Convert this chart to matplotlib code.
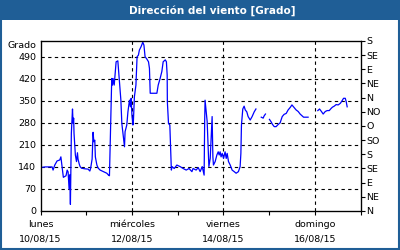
import numpy as np
import matplotlib
matplotlib.use('Agg')
import matplotlib.pyplot as plt
from matplotlib.patches import Rectangle

# Datos: horas desde lunes 10/08/15 00:00, dirección en grados (nan = hueco)
horas = [0.2, 2.4, 6.1, 6.6, 7.5, 8.7, 10.1, 10.7, 11.0, 11.5, 12.0, 12.8, 13.4, 14.0, 14.5,
         15.0, 15.4, 15.7, 16.2, 16.8, 17.1, 17.4, 17.6, 18.3, 18.9, 19.4, 19.7, 20.3, 20.8,
         21.5, 23.3, 25.0, 25.9, 26.3, 27.1, 27.6, 28.0, 28.5, 28.8, 29.6, 30.3, 31.3, 33.0,
         34.8, 35.7, 36.2, 36.6, 37.1, 37.4, 37.8, 38.1, 38.7, 39.7, 40.6, 41.3, 42.2, 42.7,
         44.1, 44.4, 45.3, 45.9, 46.7, 47.2, 47.6, 48.0, 48.5, 48.8, 49.3, 50.1, 50.7, 51.4,
         51.9, 52.8, 53.7, 54.3, 54.9, 55.8, 56.7, 57.2, 57.6, 61.1, 61.8, 62.8, 63.7, 64.4,
         65.5, 66.1, 66.5, 66.6, 67.2, 67.9, 68.7, 69.1, 70.2, 71.6, 73.3, 74.9, 76.5, 78.0,
         79.5, 80.1, 81.7, 82.8, 83.8, 84.9, 85.6, 85.9, 86.2, 86.4, 87.0, 87.5, 88.4, 89.1,
         89.8, 90.1, 90.5, 90.8, 91.7, 92.6, 93.3, 93.8, 94.3, 94.8, 95.4, 96.1, 96.9, 97.5,
         98.0, 98.7, 99.6, 100.6, 101.7, 102.7, 103.9, 104.8, 105.2, 105.5, 106.2, 106.9,
         107.5, 108.3, 109.0, 110.1, 111.1, 112.2, 113.1,
         114.5,
         115.9, 116.9, 117.4, 118.1,
         119.0,
         120.2, 121.1, 121.8, 122.7, 123.7, 124.8, 125.8, 126.9, 127.9, 129.0, 130.0, 131.1,
         132.0, 132.7, 133.6, 134.2, 135.3, 136.3, 137.4, 138.1, 139.5, 140.5,
         143.0,
         145.6, 146.5, 147.5, 148.4, 149.5, 150.5, 151.6, 152.6, 153.3, 154.2, 155.2, 156.3,
         157.4, 158.2, 159.1, 160.0, 160.5, 161.0]
grados = [138, 140, 140, 130, 146, 159, 162, 172, 157, 130, 107, 110, 112, 130, 124,
          70, 115, 21, 247, 324, 279, 295, 247, 178, 157, 185, 165, 150, 141,
          136, 134, 133, 127, 135, 165, 250, 220, 225, 172, 146, 136, 130, 125,
          120, 114, 112, 216, 350, 421, 400, 421, 400, 474, 477, 421, 352, 278,
          204, 252, 273, 315, 352, 331, 358, 305, 273, 289, 363, 400, 490, 495,
          511, 522, 536, 527, 490, 483, 474, 453, 374, 374, 400, 421, 443, 474,
          480, 474, 432, 347, 278, 273, 130, 141, 135, 146, 141, 135, 130, 135,
          125, 135, 130, 138, 125, 141, 123, 114, 289, 352, 315, 284, 141, 167,
          257, 300, 172, 146, 157, 178, 188, 178, 188, 172, 183, 167, 188, 167,
          183, 157, 146, 130, 125, 120, 125, 141, 183, 273, 324, 333,
          321, 315, 300, 289, 300, 315, 324,
          np.nan,
          298, 295, 302, 308,
          np.nan,
          291, 283, 275, 268, 268, 275, 280, 300, 307, 310, 321, 329,
          337, 332, 326, 321, 316, 308, 302, 298, 298, 298,
          np.nan,
          319, 324, 316, 308, 316, 319, 319, 326, 330, 333, 338, 337,
          342, 349, 358, 358, 347, 331]

dias = ['lunes\n10/08/15', 'miércoles\n12/08/15', 'viernes\n14/08/15', 'domingo\n16/08/15']
dias_pos = [0, 48, 96, 144]
ticks_izq = [0, 70, 140, 210, 280, 350, 420, 490]
rumbos = ['N', 'NE', 'E', 'SE', 'S', 'SO', 'O', 'NO', 'N', 'NE', 'E', 'SE', 'S']

azul = '#1f5e96'
fs = 6.8

fig = plt.figure(figsize=(4, 2.5), dpi=100)
fig.patch.set_facecolor('white')

# barra de título y marco
fig.patches.append(Rectangle((0, 1 - 20 / 250), 1, 20 / 250, transform=fig.transFigure,
                             facecolor=azul, edgecolor='none', zorder=0))
fig.patches.append(Rectangle((0.0025, 0.004), 0.995, 0.992, transform=fig.transFigure,
                             facecolor='none', edgecolor=azul, linewidth=1.5, zorder=5))
fig.text(0.53, 1 - 10.5 / 250, 'Dirección del viento [Grado]', color='white',
         fontsize=7.5, fontweight='bold', ha='center', va='center')

ax = fig.add_axes([40.5 / 400, 1 - 211 / 250, (360.5 - 40.5) / 400, 170 / 250])
ax.plot(horas, grados, color='#0000ff', linewidth=0.9)
ax.set_xlim(0, 168)
ax.set_ylim(0, 540)

ax.set_yticks(ticks_izq)
ax.set_yticklabels([str(t) for t in ticks_izq], fontsize=fs)
ax.tick_params(axis='y', length=0, pad=3)
ax.set_xticks(dias_pos)
ax.set_xticklabels(dias, fontsize=fs, linespacing=1.75)
ax.set_xticks(np.arange(0, 169, 24), minor=True)
ax.tick_params(axis='x', which='both', length=3, width=0.8, direction='out', pad=3.5)

for v in ticks_izq[1:]:
    ax.axhline(v, color='black', linestyle=(0, (3, 3)), linewidth=0.8, zorder=0)
for d in dias_pos[1:]:
    ax.axvline(d, color='black', linestyle=(0, (3, 3)), linewidth=0.8, zorder=0)

for s in ax.spines.values():
    s.set_linewidth(0.9)

ax.text(-0.012, (211 - 46) / 170, 'Grado', transform=ax.transAxes, fontsize=fs,
        ha='right', va='center')

ax2 = ax.twinx()
ax2.set_ylim(0, 540)
ax2.set_yticks(np.arange(0, 541, 45))
ax2.set_yticklabels(rumbos, fontsize=fs)
ax2.tick_params(axis='y', length=3, width=0.8, pad=1)

fig.savefig('out.png', dpi=100)
